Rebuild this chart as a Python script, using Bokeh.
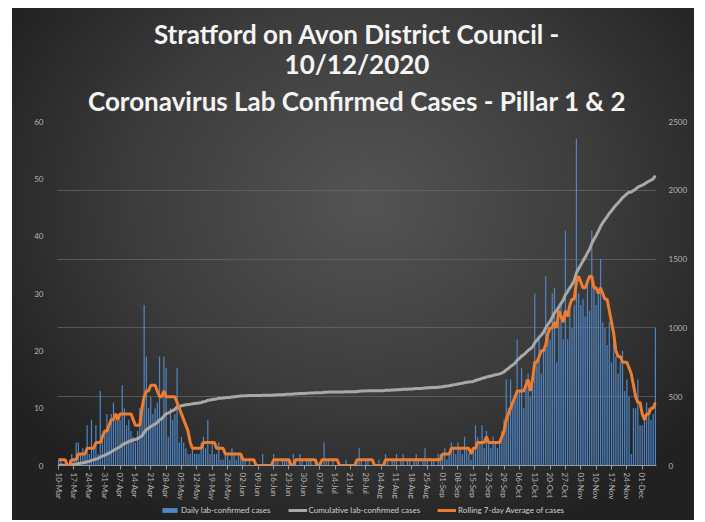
from bokeh.plotting import figure
from bokeh.models import (Range1d, LinearAxis, FixedTicker, SingleIntervalTicker, Grid,
                          Title, Legend, LegendItem, ColumnDataSource)
from bokeh.layouts import column
from bokeh.embed import file_html
from bokeh.resources import INLINE
import numpy as np

title_lines = ["Stratford on Avon District Council -",
               "10/12/2020",
               "Coronavirus Lab Confirmed Cases - Pillar 1 & 2"]

tick_labels = ["10-Mar", "17-Mar", "24-Mar", "31-Mar", "07-Apr", "14-Apr", "21-Apr", "28-Apr",
               "05-May", "12-May", "19-May", "26-May", "02-Jun", "09-Jun", "16-Jun", "23-Jun",
               "30-Jun", "07-Jul", "14-Jul", "21-Jul", "28-Jul", "04-Aug", "11-Aug", "18-Aug",
               "25-Aug", "01-Sep", "08-Sep", "15-Sep", "22-Sep", "29-Sep", "06-Oct", "13-Oct",
               "20-Oct", "27-Oct", "03-Nov", "10-Nov", "17-Nov", "24-Nov", "01-Dec"]

series_names = ["Daily lab-confirmed cases", "Cumulative lab-confirmed cases",
                "Rolling 7-day Average of cases"]

# daily lab-confirmed cases, one value per day from 10-Mar to 07-Dec
daily = [
    1, 1, 0, 0, 0, 1, 2,
    1, 4, 4, 2, 3, 2, 7,
    2, 8, 3, 7, 2, 13, 5,
    6, 9, 7, 9, 11, 8, 9,
    8, 14, 10, 7, 8, 6, 5,
    4, 6, 10, 9, 28, 19, 10,
    12, 9, 10, 11, 19, 8, 19,
    17, 5, 10, 8, 9, 17, 4,
    5, 4, 3, 2, 2, 3, 2,
    2, 2, 4, 5, 3, 8, 2,
    4, 2, 2, 4, 1, 1, 2,
    2, 1, 3, 2, 1, 2, 2,
    1, 1, 0, 1, 0, 0, 0,
    0, 0, 2, 0, 0, 0, 0,
    2, 1, 1, 0, 1, 1, 1,
    1, 0, 2, 1, 0, 2, 1,
    0, 1, 1, 1, 0, 1, 0,
    0, 0, 4, 1, 1, 0, 1,
    0, 0, 0, 0, 0, 1, 0,
    0, 0, 0, 1, 3, 1, 0,
    1, 1, 0, 0, 0, 0, 1,
    0, 0, 2, 1, 0, 1, 1,
    2, 0, 1, 2, 0, 1, 1,
    0, 1, 2, 1, 0, 1, 3,
    1, 0, 1, 1, 0, 2, 2,
    2, 3, 1, 2, 4, 3, 2,
    4, 3, 2, 5, 3, 2, 1,
    3, 7, 5, 4, 7, 3, 6,
    4, 3, 5, 4, 3, 4, 6,
    8, 15, 10, 15, 11, 12, 22,
    13, 17, 10, 15, 16, 12, 14,
    30, 18, 22, 16, 20, 33, 24,
    22, 30, 31, 18, 25, 28, 22,
    41, 22, 27, 24, 28, 57, 30,
    28, 29, 26, 32, 27, 41, 31,
    28, 30, 36, 25, 24, 21, 25,
    18, 22, 19, 16, 18, 20, 13,
    15, 12, 2, 10, 10, 15, 7,
    7, 8, 11, 10, 8, 9, 24,
]

# rolling 7-day average
rolling = [
    1, 1, 1, 1, 0, 0, 1, 1, 1, 2, 2, 2, 2, 3, 3, 3, 3, 4, 4, 4,
    5, 6, 6, 7, 8, 8, 9, 8, 9, 9, 9, 9, 9, 9, 8, 7, 7, 7, 10, 12,
    13, 13, 14, 14, 14, 13, 12, 12, 13, 12, 12, 12, 12, 12, 11, 10, 9, 8, 7, 6,
    4, 3, 3, 3, 3, 3, 4, 4, 4, 4, 4, 4, 3, 3, 3, 3, 2, 2, 2, 2,
    2, 2, 2, 2, 1, 1, 1, 1, 1, 1, 0, 0, 0, 0, 0, 0, 0, 0, 1, 1,
    1, 1, 1, 1, 1, 1, 0, 0, 1, 1, 1, 1, 1, 1, 1, 1, 1, 1, 0, 0,
    1, 1, 1, 1, 1, 1, 1, 1, 0, 0, 0, 0, 0, 0, 0, 0, 1, 1, 1, 1,
    1, 1, 1, 1, 0, 0, 0, 0, 0, 1, 1, 1, 1, 1, 1, 1, 1, 1, 1, 1,
    1, 1, 1, 1, 1, 1, 1, 1, 1, 1, 1, 1, 1, 1, 1, 2, 2, 2, 2, 3,
    3, 3, 3, 3, 3, 3, 3, 3, 2, 3, 3, 4, 4, 4, 4, 5, 4, 4, 4, 4,
    4, 4, 5, 6, 8, 9, 10, 11, 12, 13, 13, 13, 13, 14, 15, 13, 15, 18, 18, 19,
    20, 20, 21, 23, 24, 24, 25, 24, 27, 26, 25, 27, 26, 28, 29, 29, 32, 33, 32, 31,
    31, 32, 33, 33, 31, 31, 30, 31, 30, 29, 29, 27, 25, 23, 20, 19, 19, 18, 18, 18,
    17, 16, 14, 12, 11, 11, 9, 8, 9, 9, 10, 10, 11,
]

cumulative = np.cumsum(daily)

AX_TEXT = "#b4b4b4"
FONT = "Lato"
BLUE, GREY, ORANGE = "#4f86c6", "#a8a8a8", "#ed7d31"

p = figure(width=682, height=495, output_backend="svg", toolbar_location=None,
           x_range=Range1d(-0.5, len(daily) - 0.5), y_range=Range1d(0, 60),
           min_border_left=45, min_border_right=38, min_border_top=113, min_border_bottom=37)
p.title.visible = False
p.background_fill_alpha = 0
p.border_fill_alpha = 0
p.outline_line_color = None
p.extra_y_ranges = {"cum": Range1d(0, 2500)}
p.xgrid.visible = False
p.ygrid.visible = False

bars_src = ColumnDataSource(dict(x=list(range(len(daily))), y=daily))
roll_src = ColumnDataSource(dict(x=list(range(len(rolling))), y=rolling))
cum_src = ColumnDataSource(dict(x=list(range(len(cumulative))), y=cumulative))

grid = Grid(dimension=1, ticker=SingleIntervalTicker(interval=500), y_range_name="cum",
            grid_line_color="#686868", grid_line_width=1, grid_line_alpha=0.7)
p.add_layout(grid)

p.vbar(x="x", top="y", width=0.55, source=bars_src, fill_color=BLUE, line_color=None)
p.line(x="x", y="y", source=cum_src, y_range_name="cum", line_color=GREY, line_width=3)
p.line(x="x", y="y", source=roll_src, line_color=ORANGE, line_width=3)

# x axis
xa = p.xaxis[0]
tick_pos = [7 * i for i in range(len(tick_labels))]
xa.ticker = FixedTicker(ticks=tick_pos)
xa.major_label_overrides = {t: lab for t, lab in zip(tick_pos, tick_labels)}
xa.major_label_orientation = "vertical"
xa.major_label_text_font = FONT
xa.major_label_text_font_size = "8px"
xa.major_label_text_color = AX_TEXT
xa.axis_line_color = "#9a9a9a"
xa.major_tick_line_color = "#9a9a9a"
xa.major_tick_in = 0
xa.major_tick_out = 4
xa.minor_tick_line_color = None
xa.major_label_standoff = 3

# left axis
ya = p.yaxis[0]
ya.ticker = SingleIntervalTicker(interval=10)
ya.axis_line_color = None
ya.major_tick_line_color = None
ya.minor_tick_line_color = None
ya.major_label_text_font = FONT
ya.major_label_text_font_size = "8px"
ya.major_label_text_color = AX_TEXT
ya.major_label_standoff = 8

# right axis
ra = LinearAxis(y_range_name="cum", ticker=SingleIntervalTicker(interval=500))
ra.axis_line_color = None
ra.major_tick_line_color = None
ra.minor_tick_line_color = None
ra.major_label_text_font = FONT
ra.major_label_text_font_size = "8px"
ra.major_label_text_color = AX_TEXT
ra.major_label_standoff = 6
p.add_layout(ra, "right")

# three title lines; the first one added sits closest to the plot
for txt, so in zip(reversed(title_lines), [9, -3, -4]):
    p.add_layout(Title(text=txt, align="center", offset=16, text_font=FONT,
                       text_font_size="26px", text_font_style="bold",
                       text_color="#f4f4f4", standoff=so), "above")

# legend strip below the chart (frame aligned with the chart's frame)
leg = figure(width=682, height=17, output_backend="svg", toolbar_location=None,
             x_axis_location=None, y_axis_location=None, min_border=0,
             x_range=Range1d(0, 1), y_range=Range1d(0, 1))
leg.title.visible = False
leg.background_fill_alpha = 0
leg.border_fill_alpha = 0
leg.outline_line_color = None
leg.grid.visible = False
r_b = leg.vbar(x="x", top="y", width=0.5, source=bars_src, fill_color=BLUE, line_color=None,
               visible=False)
r_c = leg.line(x="x", y="y", source=cum_src, line_color=GREY, line_width=3, visible=False)
r_r = leg.line(x="x", y="y", source=roll_src, line_color=ORANGE, line_width=3, visible=False)
legend = Legend(items=[LegendItem(label=n, renderers=[r]) for n, r in
                       zip(series_names, [r_b, r_c, r_r])],
                orientation="horizontal", location=(101, 3), background_fill_alpha=0,
                border_line_alpha=0, label_text_color="#cfcfcf", label_text_font=FONT,
                label_text_font_size="8px", glyph_width=19, glyph_height=6,
                label_height=10, spacing=17, padding=2, margin=0, label_standoff=2,
                inactive_fill_alpha=0)
leg.add_layout(legend)

lay = column(p, leg, spacing=0)
lay.styles = {"margin-left": "12px", "margin-top": "8px",
              "background": "radial-gradient(ellipse 62% 70% at 52% 38%, #545454 0%, #3c3c3c 55%, #212121 100%)"}

open("out.html", "w").write(file_html(lay, INLINE))
